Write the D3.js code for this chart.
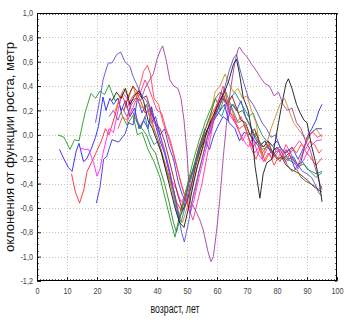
<!DOCTYPE html>
<html><head><meta charset="utf-8">
<script src="https://cdn.jsdelivr.net/npm/d3@7"></script>
<style>body{margin:0;background:#fff}svg{display:block}</style>
</head><body>
<svg id="c" width="346" height="322"></svg>
<script>
const xTicks=[0,10,20,30,40,50,60,70,80,90,100];
const yTicks=[-1.2,-1.0,-0.8,-0.6,-0.4,-0.2,0.0,0.2,0.4,0.6,0.8,1.0];
const yTickLabels=["-1,2","-1,0","-0,8","-0,6","-0,4","-0,2","0,0","0,2","0,4","0,6","0,8","1,0"];
const xTitle="возраст, лет";
const yTitle="оклонения от функции роста, метр";

const green1=[[7,0.0],[9,-0.02],[11,-0.12],[12.5,-0.04],[14,-0.05],[16,0.18],[18,0.34],[19.5,0.3],[21,0.36],[22.5,0.33],[24,0.41],[26,0.28],[27,0.3],[28.5,0.15],[30,0.08],[32,0.16],[33.5,0.0],[35,0.02],[37,-0.12],[39,-0.22],[41,-0.35],[43,-0.55],[44.5,-0.7],[46,-0.84],[48,-0.6],[50,-0.42],[52,-0.22],[54,-0.05],[56,0.1],[58,0.22],[59.5,0.3],[61,0.2],[63,0.35],[65,0.22],[67,0.1],[68.5,0.12],[70,0.05],[72,-0.05],[73,0.02],[75,-0.12],[77,-0.1],[79,-0.15],[81,-0.12],[83,-0.2],[85,-0.22],[87,-0.26],[89,-0.24],[91,-0.3],[93,-0.35],[95,-0.31]];
const blue1=[[7.5,-0.12],[9,-0.2],[10.5,-0.27],[11.7,-0.3],[13,-0.14],[14,-0.07],[15.5,-0.22],[16.5,-0.2],[18,-0.12],[19.5,-0.02],[20.5,0.07],[22,0.31],[23,0.2],[24.3,0.3],[25.5,0.25],[27,0.3],[28,0.2],[29.5,0.28],[31,0.15],[32.5,0.22],[34,0.05],[35.5,0.12],[37,0.05],[38.2,0.23],[39.5,0.08],[41,-0.05],[42.5,-0.15],[44,-0.3],[46,-0.5],[47.5,-0.68],[49,-0.6],[50.5,-0.4],[52,-0.3],[54,-0.1],[56,0.05],[57.5,0.0],[59,0.12],[61,0.2],[62.5,0.25],[64,0.1],[66,0.05],[67.5,-0.05],[69,0.02],[71,0.0],[72.5,-0.05],[74,-0.1],[76,-0.05],[78,-0.15],[80,-0.1],[82,-0.2],[84,-0.15],[86,-0.28],[88,-0.22],[90,-0.02],[91.6,0.05],[93,0.12],[94,0.2],[95,0.25]];
const red1=[[11.5,-0.32],[12.8,-0.47],[14.2,-0.56],[15.6,-0.45],[16.7,-0.3],[18.3,-0.22],[20,-0.13],[21.6,-0.04],[22.8,0.05],[24,0.0],[25.5,0.12],[27,0.25],[28.5,0.32],[30,0.22],[31.5,0.3],[33,0.35],[34.5,0.28],[36,0.18],[37.5,0.2],[39,0.05],[40.5,-0.05],[42,-0.18],[43.5,-0.3],[45,-0.42],[46.5,-0.55],[48,-0.62],[49.5,-0.5],[51,-0.35],[52.5,-0.25],[54,-0.1],[55.5,0.0],[57,0.1],[58.5,0.18],[60,0.25],[61.5,0.35],[63,0.28],[64.5,0.18],[66,0.1],[67.5,0.05],[69,0.08],[70.5,-0.02],[72,-0.1],[73.5,-0.05],[75,-0.15],[77,-0.08],[79,-0.15],[81,-0.22],[83,-0.12],[85,-0.2],[87,-0.25],[89,-0.12],[91,-0.18],[93,-0.25],[95,-0.19]];
const magenta1=[[14.5,-0.11],[16,-0.12],[17.2,-0.12],[18.9,-0.23],[20,-0.34],[21,-0.28],[22,-0.15],[23,-0.05],[24,0.05],[25.5,0.02],[27,0.2],[28.5,0.35],[30,0.3],[31.5,0.2],[33,0.15],[34.5,0.05],[36,0.15],[37.5,0.22],[39,0.1],[40.5,0.05],[42,-0.1],[43.5,-0.22],[45,-0.38],[46.5,-0.45],[48,-0.55],[49.5,-0.5],[51,-0.65],[52.5,-0.52],[54,-0.35],[55.5,-0.2],[57,-0.05],[58.5,0.1],[60,0.22],[61.5,0.32],[63,0.25],[64.5,0.15],[66,0.1],[67.5,0.02],[69,-0.05],[70.5,-0.1],[72,-0.02],[73.5,-0.15],[75,-0.2],[77,-0.1],[79,-0.18],[81,-0.12],[83,-0.22],[85,-0.18],[87,-0.28],[89,-0.2],[91,-0.1],[93,-0.05],[95,-0.04]];
const blue2=[[19.8,-0.56],[21,-0.43],[22.2,-0.2],[23.2,-0.18],[25,-0.04],[27.2,-0.06],[29.4,0.01],[30.5,0.1],[32,0.08],[33.5,0.3],[35,0.18],[36.5,0.25],[38,0.1],[39.5,0.15],[41,0.0],[42.5,0.05],[44,-0.1],[45.5,-0.2],[47,-0.38],[48.5,-0.5],[50,-0.55],[51.5,-0.42],[53,-0.22],[54.5,-0.1],[56,-0.05],[57.5,-0.12],[59,0.0],[60.5,0.08],[62,0.15],[63.5,0.12],[65,0.25],[66.5,0.2],[68,0.28],[69.5,0.15],[71,0.08],[72.5,-0.02],[74,-0.08],[75.5,-0.1],[77,-0.05],[78.5,-0.09],[80,-0.05],[81.5,-0.12],[83,-0.15],[85,-0.1],[87,-0.2],[89,-0.1],[91,0.0],[93,0.05],[95,0.05]];
const slate1=[[19.5,0.1],[21,0.3],[22,0.45],[23.2,0.55],[23.8,0.59],[25,0.59],[26.6,0.66],[27.9,0.68],[29.3,0.6],[31,0.56],[32,0.48],[33.5,0.4],[35,0.32],[36.5,0.28],[38,0.18],[39.5,0.1],[41,0.0],[42.5,-0.12],[44,-0.28],[45.5,-0.45],[47,-0.65],[48.2,-0.8],[49.1,-0.88],[50.5,-0.72],[52,-0.5],[53.5,-0.35],[55,-0.2],[56.5,-0.05],[58,0.1],[59.5,0.15],[61,0.25],[62.5,0.38],[64,0.52],[65.5,0.63],[66.5,0.66],[67.5,0.55],[69,0.42],[70.5,0.3],[72,0.25],[73.5,0.18],[75,0.1],[76.5,0.05],[78,-0.02],[79.5,0.0],[81,-0.1],[82.5,-0.15],[84,-0.12],[85.5,-0.2],[87,-0.25],[88.5,-0.3],[90,-0.32],[91.5,-0.35],[93,-0.42],[94,-0.48],[95,-0.5]];
const purple1=[[24,0.15],[25.5,0.2],[27,0.12],[28.5,0.22],[30,0.15],[31.5,0.25],[33,0.3],[34.5,0.28],[36,0.38],[37.5,0.45],[38.8,0.5],[40,0.62],[41.2,0.7],[41.9,0.73],[43,0.62],[44.3,0.45],[45.6,0.4],[47,0.38],[48,0.3],[49,0.12],[50,-0.15],[51,-0.55],[52,-0.58],[53.2,-0.64],[54.3,-0.7],[55.4,-0.78],[56.3,-0.88],[57.1,-0.97],[58,-1.04],[58.8,-1.0],[59.9,-0.78],[61,-0.51],[62.1,-0.18],[63,0.05],[64,0.28],[65,0.45],[66,0.6],[67,0.7],[67.5,0.72],[68.5,0.68],[70,0.64],[71.5,0.58],[73,0.53],[74.5,0.47],[76,0.42],[77.5,0.4],[79,0.32],[80.5,0.35],[82,0.25],[83.5,0.2],[85,0.22],[86.5,0.1],[88,0.05],[89.5,-0.05],[91,-0.12],[92.5,-0.25],[94,-0.38],[95,-0.45]];
const orange1=[[26,0.2],[27.5,0.3],[29,0.38],[30.5,0.3],[32,0.4],[33.5,0.28],[35,0.22],[36.5,0.25],[38,0.1],[39.5,0.02],[41,-0.1],[42.5,-0.22],[44,-0.35],[45.5,-0.5],[47,-0.62],[48.5,-0.72],[50,-0.6],[51.5,-0.45],[53,-0.3],[54.5,-0.18],[56,-0.05],[57.5,0.1],[59.3,0.35],[61,0.4],[62.7,0.5],[64,0.42],[65.5,0.35],[67,0.38],[68.5,0.3],[70,0.32],[71.5,0.2],[73,0.1],[74.5,-0.12],[75.4,-0.19],[76.5,-0.08],[78,0.05],[79.5,0.15],[81,0.25],[82.5,0.3],[84,0.2],[85.5,0.1],[87,0.05],[88.5,0.0],[90,-0.05],[91.5,0.02],[93,0.05],[95,-0.02]];
const teal1=[[33,0.12],[34.5,0.05],[36,0.15],[37.5,0.0],[39,-0.08],[40.5,-0.05],[42,-0.2],[43.5,-0.32],[45,-0.45],[46.5,-0.62],[48,-0.72],[49.5,-0.58],[51,-0.4],[52.5,-0.25],[54,-0.15],[55.5,-0.02],[57,0.05],[58.5,0.12],[60,0.2],[61.5,0.15],[63,0.25],[64.5,0.3],[66,0.35],[67.5,0.28],[69,0.22],[70.5,0.15],[72,0.18],[73.5,0.08],[75,0.0],[76.5,-0.05],[78,-0.08],[79.5,-0.12],[81,-0.1],[82.5,-0.15],[84,-0.2],[85.5,-0.18],[87,-0.25],[88.5,-0.22],[90,-0.28],[91.5,-0.3],[93,-0.32],[95,-0.3]];
const pink1=[[30,0.1],[31.5,0.2],[33,0.28],[34.5,0.35],[36,0.45],[37,0.4],[38.5,0.3],[40,0.2],[41.5,0.18],[43,0.05],[44.5,-0.05],[46,-0.2],[47.5,-0.35],[49,-0.48],[50.5,-0.6],[52,-0.7],[53.5,-0.55],[55,-0.4],[56.5,-0.2],[58,0.0],[59.5,0.2],[61,0.32],[62,0.4],[63.5,0.28],[65,0.2],[66.5,0.1],[68,0.15],[69.5,0.05],[71,-0.05],[72.5,-0.15],[74,-0.1],[75.5,-0.22],[77,-0.15],[78.5,-0.2],[80,-0.1],[81.5,-0.18],[83,-0.08],[84.5,-0.15],[86,-0.1],[87.5,-0.05],[89,-0.1],[90.5,0.0],[92,0.02],[93.5,-0.02],[95,0.0]];
const darkred1=[[29,0.2],[30.5,0.32],[32,0.4],[33.5,0.35],[35,0.3],[36.5,0.32],[38,0.2],[39.5,0.1],[41,0.05],[42.5,-0.05],[44,-0.2],[45.5,-0.35],[47,-0.5],[48.5,-0.62],[50,-0.55],[51.5,-0.4],[53,-0.25],[54.5,-0.12],[56,0.0],[57.5,0.08],[59,0.15],[60.5,0.22],[62,0.3],[63.5,0.25],[65,0.32],[66.5,0.22],[68,0.12],[69.5,0.1],[71,0.0],[72.5,0.05],[74,-0.05],[75.5,-0.1],[77,-0.05],[78.5,-0.15],[80,-0.2],[81.5,-0.18],[83,-0.25],[84.5,-0.28],[86,-0.3],[87.5,-0.32],[89,-0.35],[90.5,-0.38],[92,-0.42],[93.5,-0.45],[95,-0.47]];
const darkgreen1=[[32,0.18],[33.5,0.1],[35,0.05],[36.5,0.0],[38,-0.1],[39.5,-0.15],[41,-0.28],[42.5,-0.4],[44,-0.55],[45.5,-0.72],[46.5,-0.8],[47.5,-0.7],[49,-0.55],[50.5,-0.4],[52,-0.28],[53.5,-0.15],[55,-0.05],[56.5,0.08],[58,0.18],[59.5,0.3],[61,0.35],[62.5,0.3],[64,0.22],[65.5,0.25],[67,0.18],[68.5,0.2],[70,0.12],[71.5,0.05],[73,-0.02],[74.5,-0.08],[76,-0.05],[77.5,-0.12],[79,-0.15],[80.5,-0.2],[82,-0.18],[83.5,-0.25],[85,-0.3],[86.5,-0.28],[88,-0.35],[89.5,-0.38],[91,-0.4],[92.5,-0.42],[94,-0.45],[95,-0.42]];
const red2=[[27,0.05],[28.5,0.15],[30,0.12],[31.5,0.28],[33,0.3],[34.5,0.42],[35.5,0.52],[36.8,0.57],[37.8,0.5],[39,0.3],[40.5,0.25],[42,0.1],[43.5,0.0],[45,-0.12],[46.5,-0.25],[48,-0.4],[49.5,-0.52],[51,-0.6],[52.5,-0.48],[54,-0.3],[55.5,-0.15],[57,0.0],[58.5,0.12],[60,0.25],[61.5,0.3],[62.5,0.38],[64,0.2],[65.5,0.15],[67,0.05],[68.5,-0.05],[70,0.02],[71.5,-0.12],[73,-0.2],[74.5,-0.1],[76,-0.22],[77.5,-0.15],[79,-0.25],[80.5,-0.18],[82,-0.12],[83.5,-0.2],[85,-0.1],[86.5,-0.15],[88,-0.08],[89.5,-0.12],[91,-0.05],[92.5,-0.08],[94,-0.15],[95,-0.12]];
const black1=[[25,0.28],[26.5,0.35],[28,0.3],[29.5,0.38],[31,0.25],[32.5,0.32],[34,0.36],[35.5,0.28],[37,0.12],[38.5,0.05],[40,-0.05],[41.5,-0.15],[43,-0.3],[44.5,-0.45],[46,-0.6],[47.5,-0.72],[49,-0.76],[50.5,-0.6],[52,-0.42],[53.5,-0.25],[55,-0.12],[56.5,0.02],[58,0.12],[59.5,0.2],[61,0.28],[62.5,0.35],[64,0.45],[65.5,0.58],[66.5,0.62],[67.5,0.5],[68.7,0.31],[70.4,0.2],[71.5,0.04],[72.7,-0.26],[74.3,-0.52],[75.4,-0.32],[76.6,-0.23],[78.3,-0.2],[79.3,-0.07],[80.5,0.1],[82,0.3],[83,0.42],[83.8,0.46],[85,0.38],[86.5,0.25],[87.7,0.18],[89,0.12],[90,0.1],[91.6,-0.1],[92.8,-0.22],[93.8,-0.34],[95,-0.55]];

const seriesList=[
 {data:green1,color:"#1f9e1f"},{data:blue1,color:"#2222ff"},{data:red1,color:"#ff2a2a"},
 {data:magenta1,color:"#ff22ff"},{data:blue2,color:"#3434e0"},{data:teal1,color:"#1a8a8a"},
 {data:orange1,color:"#c8901a"},{data:pink1,color:"#ff3388"},{data:darkred1,color:"#a01818"},
 {data:darkgreen1,color:"#357a35"},{data:red2,color:"#ff4545"},{data:slate1,color:"#5a4fcf"},
 {data:purple1,color:"#a040a0"},{data:black1,color:"#151515"}
];

const svg=d3.select("#c");
const L=37,R=337,T=13,B=281;
const x=d3.scaleLinear().domain([0,100]).range([L,R]);
const y=d3.scaleLinear().domain([-1.2,1.0]).range([B,T]);

const grid=svg.append("g");
grid.selectAll("line.vx").data(xTicks.slice(1,-1)).join("line")
 .attr("x1",d=>Math.round(x(d))+0.5).attr("x2",d=>Math.round(x(d))+0.5).attr("y1",T).attr("y2",B)
 .attr("stroke","#c4c4c4").attr("stroke-dasharray","1,2");
grid.selectAll("line.hy").data(yTicks.slice(1,-1)).join("line")
 .attr("y1",d=>Math.round(y(d))+0.5).attr("y2",d=>Math.round(y(d))+0.5).attr("x1",L).attr("x2",R)
 .attr("stroke","#c4c4c4").attr("stroke-dasharray","1,2");

const line=d3.line().x(d=>x(d[0])).y(d=>y(d[1]));
svg.append("g").selectAll("path").data(seriesList).join("path")
 .attr("d",d=>line(d.data)).attr("fill","none").attr("stroke",d=>d.color)
 .attr("stroke-width",0.9).attr("stroke-linejoin","round");

const xMinor=d3.range(0,101,1);
const yMinor=d3.range(-1.2,1.0001,0.05);
function minor(g,vals,scale,orient){
  g.selectAll("line").data(vals).join("line").each(function(d){
    const s=d3.select(this);
    const p=Math.round(scale(d))+0.5;
    if(orient==="b") s.attr("x1",p).attr("x2",p).attr("y1",B).attr("y2",B-2);
    if(orient==="t") s.attr("x1",p).attr("x2",p).attr("y1",T).attr("y2",T+2);
    if(orient==="l") s.attr("y1",p).attr("y2",p).attr("x1",L).attr("x2",L+2);
    if(orient==="r") s.attr("y1",p).attr("y2",p).attr("x1",R).attr("x2",R-2);
  }).attr("stroke","#333").attr("stroke-width",0.8);
}
minor(svg.append("g"),xMinor,x,"b");
minor(svg.append("g"),xMinor,x,"t");
minor(svg.append("g"),yMinor,y,"l");
minor(svg.append("g"),yMinor,y,"r");

const fmt=d=>yTickLabels[yTicks.findIndex(v=>Math.abs(v-d)<1e-9)];
const ax=svg.append("g").attr("transform",`translate(0,${B})`)
 .call(d3.axisBottom(x).tickValues(xTicks).tickSize(-4).tickPadding(7).tickFormat(d3.format("d")));
const ay=svg.append("g").attr("transform",`translate(${L},0)`)
 .call(d3.axisLeft(y).tickValues(yTicks).tickSize(-4).tickPadding(4).tickFormat(fmt));
[ax,ay].forEach(g=>{
  g.select(".domain").remove();
  g.selectAll("line").attr("stroke","#222");
  g.selectAll("text").attr("font-family","Liberation Sans, Arial, sans-serif").attr("font-size",8.3).attr("fill","#444")
   .each(function(){const t=d3.select(this);const tx=+t.attr("x")||0;t.attr("x",0).attr("transform",`translate(${tx},0) scale(0.88,1)`);});
});

svg.append("rect").attr("x",L+0.5).attr("y",T+0.5).attr("width",R-L-1).attr("height",B-T-1)
 .attr("fill","none").attr("stroke","#000").attr("stroke-width",1);

svg.append("text").attr("x",175).attr("y",313).attr("text-anchor","middle")
 .attr("font-family","Liberation Sans, Arial, sans-serif").attr("font-size",12.5).attr("fill","#111")
 .attr("textLength",49).attr("lengthAdjust","spacingAndGlyphs").text(xTitle);
svg.append("text").attr("transform","translate(13.5,147) rotate(-90)").attr("text-anchor","middle")
 .attr("font-family","Liberation Sans, Arial, sans-serif").attr("font-size",12).attr("fill","#111")
 .attr("textLength",210).attr("lengthAdjust","spacingAndGlyphs").text(yTitle);
</script>
</body></html>
